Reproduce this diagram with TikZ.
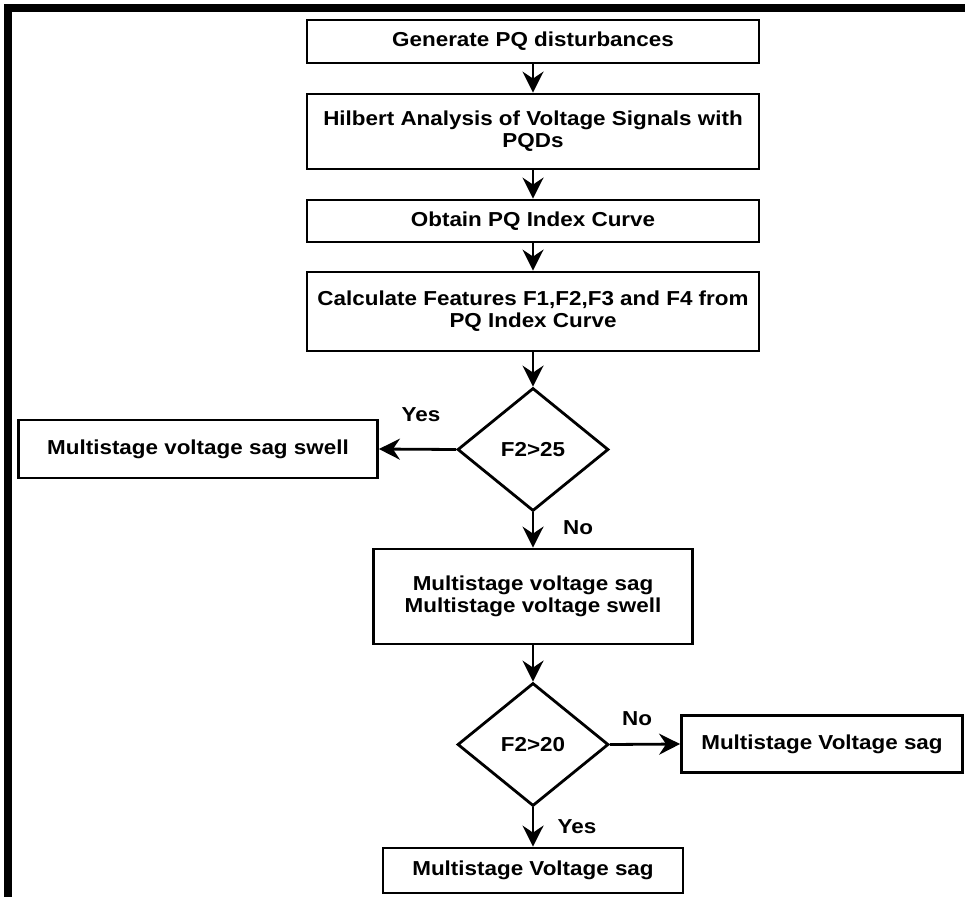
\documentclass[tikz,border=0pt]{standalone}
\usepackage{fontspec}
\setmainfont{Liberation Sans}[FakeStretch=1.11]
\usetikzlibrary{arrows.meta,shapes.geometric}
\begin{document}
\begin{tikzpicture}[x=1pt,y=-1pt,
  every node/.style={font=\fontsize{20.2}{22}\selectfont\bfseries},
  box/.style={draw, line width=2.8pt, rectangle, align=center, inner sep=0pt},
  dec/.style={draw, line width=2.8pt, diamond, aspect=1.23, inner sep=0pt, minimum width=151pt, minimum height=123pt},
  lbl/.style={inner sep=0pt},
  arr/.style={line width=2.8pt, -{Stealth[length=21pt,width=21pt,inset=7pt]}}]
\useasboundingbox (0,0) rectangle (965,897);
\fill[white] (0,0) rectangle (965,897);
% frame
\fill[black] (4,4) rectangle (965,12);
\fill[black] (4,4) rectangle (12,897);
% nodes
\node[box, minimum width=452pt, minimum height=43pt] (n1) at (533,41.5) {Generate PQ disturbances};
\node[box, minimum width=452pt, minimum height=75pt] (n2) at (533,131.5) {Hilbert Analysis of Voltage Signals with\\PQDs};
\node[box, minimum width=452pt, minimum height=42pt] (n3) at (533,221) {Obtain PQ Index Curve};
\node[box, minimum width=452pt, minimum height=79pt] (n4) at (533,311.5) {Calculate Features F1,F2,F3 and F4 from\\PQ Index Curve};
\node[dec] (d1) at (533,449.5) {F2>25};
\node[box, minimum width=359pt, minimum height=58pt] (sw) at (198,449) {Multistage voltage sag swell};
\node[box, minimum width=319pt, minimum height=95pt] (n5) at (533,596.5) {Multistage voltage sag\\Multistage voltage swell};
\node[dec] (d2) at (533,744.5) {F2>20};
\node[box, minimum width=281pt, minimum height=57pt] (r) at (822,744) {Multistage Voltage sag};
\node[box, minimum width=300pt, minimum height=45pt] (b) at (533,870.5) {Multistage Voltage sag};
% labels
\node[lbl] (l1) at (421,415) {Yes};
\node[lbl] (l2) at (578,528) {No};
\node[lbl] (l3) at (637,719) {No};
\node[lbl] (l4) at (577,827) {Yes};
% connectors
\draw[arr] (n1) -- (n2);
\draw[arr] (n2) -- (n3);
\draw[arr] (n3) -- (n4);
\draw[arr] (n4) -- (d1);
\draw[arr] (d1.west) -- (sw.east);
\draw[arr] (d1.south) -- (n5.north);
\draw[arr] (n5) -- (d2);
\draw[arr] (d2.east) -- (r.west);
\draw[arr] (d2.south) -- (b.north);
\end{tikzpicture}
\end{document}
